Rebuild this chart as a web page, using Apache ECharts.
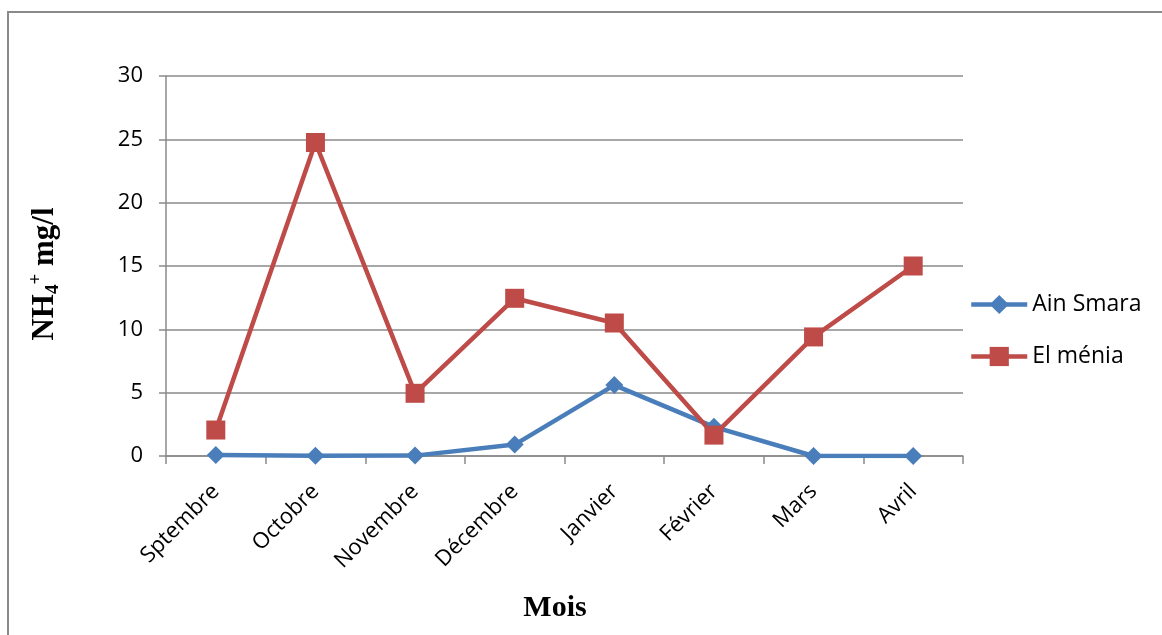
<!DOCTYPE html>
<html>
<head>
<meta charset="utf-8">
<title>NH4+ mg/l par mois</title>
<script src="https://cdn.jsdelivr.net/npm/echarts@6/dist/echarts.min.js"></script>
<style>
  html, body { margin: 0; padding: 0; background: #ffffff; }
  #chart { width: 1162px; height: 635px; }
</style>
</head>
<body>
<div id="chart"></div>
<script>
// Months on the category axis
const months = ['Sptembre', 'Octobre', 'Novembre', 'Décembre', 'Janvier', 'Février', 'Mars', 'Avril'];

// NH4+ concentration (mg/l) per site
const ainSmara = [0.08, 0.02, 0.03, 0.9, 5.6, 2.3, 0, 0];
const elMenia = [2.05, 24.75, 4.95, 12.45, 10.5, 1.65, 9.4, 15.0];

// Value axis ticks
const yMin = 0;
const yMax = 30;
const yStep = 5;

const seriesNames = ['Ain Smara', 'El ménia'];

const labelFont = '"Open Sans", "Noto Sans", sans-serif';
const titleFont = '"Liberation Serif", "DejaVu Serif", serif';
const gridColor = '#8a8a8a';

const chart = echarts.init(document.getElementById('chart'), null, { renderer: 'canvas' });

chart.setOption({
  animation: false,
  backgroundColor: '#ffffff',
  grid: { left: 166, right: 199, top: 76, bottom: 179, containLabel: false },
  legend: {
    orient: 'vertical',
    left: 964,
    top: 288,
    itemWidth: 56,
    itemHeight: 24,
    itemGap: 29,
    data: seriesNames,
    lineStyle: { width: 4.5 },
    textStyle: { fontFamily: labelFont, fontSize: 23, color: '#000000' }
  },
  xAxis: {
    type: 'category',
    data: months,
    boundaryGap: true,
    axisLine: { lineStyle: { color: gridColor, width: 1.5 } },
    axisTick: { show: true, alignWithLabel: false, interval: 0, length: 8, lineStyle: { color: gridColor, width: 1.5 } },
    axisLabel: {
      interval: 0,
      rotate: 45,
      margin: 32,
      fontFamily: labelFont,
      fontSize: 22,
      color: '#000000'
    },
    splitLine: { show: false }
  },
  yAxis: {
    type: 'value',
    min: yMin,
    max: yMax,
    interval: yStep,
    axisLine: { show: true, lineStyle: { color: gridColor, width: 1.5 } },
    axisTick: { show: true, inside: false, length: 7, lineStyle: { color: gridColor, width: 1.5 } },
    axisLabel: { margin: 23, fontFamily: labelFont, fontSize: 22, color: '#000000' },
    splitLine: { show: true, lineStyle: { color: gridColor, width: 1.5 } }
  },
  series: [
    {
      name: seriesNames[0],
      type: 'line',
      data: ainSmara,
      symbol: 'diamond',
      symbolSize: 18,
      color: '#4A7EBB',
      lineStyle: { color: '#4A7EBB', width: 4.5 },
      itemStyle: { color: '#4A7EBB' }
    },
    {
      name: seriesNames[1],
      type: 'line',
      data: elMenia,
      symbol: 'rect',
      symbolSize: 19,
      color: '#BE4B48',
      lineStyle: { color: '#BE4B48', width: 4.5 },
      itemStyle: { color: '#BE4B48' }
    }
  ],
  graphic: [
    {
      // outer chart frame
      type: 'rect',
      silent: true,
      shape: { x: 8, y: 12, width: 1200, height: 700 },
      style: { fill: 'none', stroke: '#8a8a8a', lineWidth: 2 }
    },
    {
      // value axis title with sub/superscript
      type: 'text',
      x: 45,
      y: 274,
      rotation: Math.PI / 2,
      style: {
        text: '{m|NH}{s|4}{p|+}{m| mg/l}',
        align: 'center',
        verticalAlign: 'middle',
        rich: {
          m: { fontFamily: titleFont, fontWeight: 'bold', fontSize: 31, lineHeight: 36, verticalAlign: 'middle', fill: '#000' },
          s: { fontFamily: titleFont, fontWeight: 'bold', fontSize: 19, lineHeight: 21, verticalAlign: 'bottom', fill: '#000' },
          p: { fontFamily: titleFont, fontWeight: 'bold', fontSize: 19, lineHeight: 16, verticalAlign: 'top', fill: '#000' }
        }
      }
    },
    {
      // category axis title
      type: 'text',
      x: 555,
      y: 608,
      style: {
        text: 'Mois',
        align: 'center',
        verticalAlign: 'middle',
        fontFamily: titleFont,
        fontWeight: 'bold',
        fontSize: 30,
        fill: '#000'
      }
    }
  ]
});
</script>
</body>
</html>
